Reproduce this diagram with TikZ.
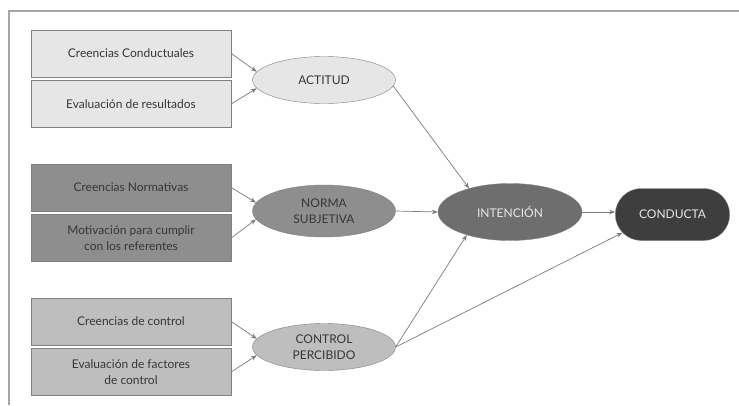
\documentclass[tikz,border=0pt]{standalone}
\usepackage{fontspec}
\setmainfont{Lato}
\usetikzlibrary{arrows.meta,shapes.geometric,shapes.misc}
\usepackage{xcolor}
\definecolor{pale}{RGB}{230,230,230}
\definecolor{mid}{RGB}{142,142,142}
\definecolor{soft}{RGB}{190,190,190}
\definecolor{deep}{RGB}{110,110,110}
\definecolor{dark}{RGB}{62,62,62}
\definecolor{ink}{RGB}{55,55,55}
\definecolor{rim}{RGB}{128,128,128}

\begin{document}
\begin{tikzpicture}[x=1pt, y=-1pt, >={Stealth[length=6pt,width=4.5pt]},
    every node/.style={font=\fontsize{12}{16}\selectfont, text=ink, align=center},
    belief/.style={rectangle, draw=rim, minimum width=200pt, minimum height=47pt},
    factor/.style={ellipse, draw=rim, minimum width=143pt, minimum height=47pt, inner sep=0pt},
    link/.style={->, draw=rim!95!black, line width=0.7pt}]
    \useasboundingbox (0,0) rectangle (739,405);
    \draw[line width=1.4pt, rim!70] (9,405) -- (9,11) -- (739,11);
    % attitude block
    \node[belief, fill=pale] (cc) at (131,53.5) {Creencias Conductuales};
    \node[belief, fill=pale] (er) at (131,104) {Evaluación de resultados};
    \node[factor, fill=pale] (act) at (324,80) {ACTITUD};
    % norm block
    \node[belief, fill=mid] (cn) at (131,187.5) {Creencias Normativas};
    \node[belief, fill=mid] (mc) at (131,238) {Motivación para cumplir\\con los referentes};
    \node[factor, fill=mid, minimum height=52pt] (ns) at (324,211) {NORMA\\SUBJETIVA};
    % control block
    \node[belief, fill=soft] (cdc) at (131,321.5) {Creencias de control};
    \node[belief, fill=soft] (ef) at (131,372) {Evaluación de factores\\de control};
    \node[factor, fill=soft] (cp) at (324,347) {CONTROL\\PERCIBIDO};
    % outcome
    \node[factor, fill=deep, text=pale, minimum width=144pt, minimum height=57pt] (int) at (510,212) {INTENCIÓN};
    \node[rounded rectangle, draw=rim, fill=dark, text=pale, minimum width=121pt, minimum height=52pt] (con) at (672.5,214.5) {CONDUCTA};
    \draw[link] (cc.east) -- (act.173);
    \draw[link] (er.east) -- (act.187);
    \draw[link] (cn.east) -- (ns.173);
    \draw[link] (mc.east) -- (ns.187);
    \draw[link] (cdc.east) -- (cp.173);
    \draw[link] (ef.east) -- (cp.187);
    \draw[link] (act.-5) -- (int.150);
    \draw[link] (ns.east) -- (int.west);
    \draw[link] (cp.east) -- (int.208);
    \draw[link] (int.east) -- (int.east -| con.west);
    \draw[link] (cp.east) -- (con.200);
\end{tikzpicture}
\end{document}
